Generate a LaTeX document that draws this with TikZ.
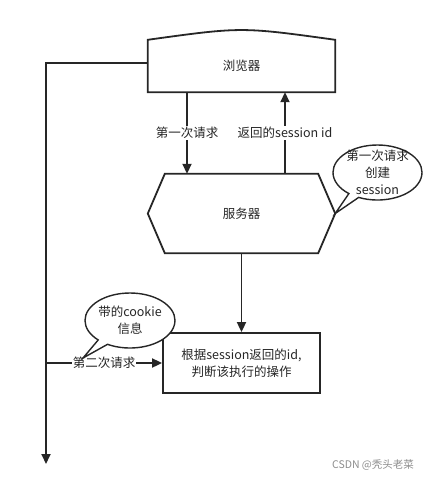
\documentclass[tikz,border=0pt]{standalone}
\usepackage{fontspec}
\setmainfont{Noto Sans CJK SC}
\usetikzlibrary{arrows.meta,shapes.callouts}

\begin{document}
\begin{tikzpicture}[x=1pt, y=-1pt,
    txt/.style={font=\fontsize{12.5}{17}\selectfont, text=black!85, align=center, inner sep=0pt},
    shp/.style={draw=black!85, line width=1.8pt},
    arr/.style={draw=black!85, line width=1.8pt, -{Triangle[length=10pt,width=9pt]}},
    lab/.style={txt, fill=white, inner sep=1pt},
    bubble/.style={ellipse callout, draw=black!85, line width=1.4pt, fill=white, txt, inner sep=-12pt}]

    \useasboundingbox (0,0) rectangle (435,480);

    % 浏览器
    \node[txt, minimum width=187, minimum height=52] (browser) at (241.5,66) {浏览器};
    \draw[shp] (browser.south west) -- (browser.north west)
        .. controls ([yshift=13pt]browser.north) .. (browser.north east)
        -- (browser.south east) -- cycle;

    % 服务器
    \node[txt, minimum width=187, minimum height=79] (server) at (241.5,213.5) {服务器};
    \draw[shp] (server.west) -- ([xshift=17pt]server.north west) -- ([xshift=-17pt]server.north east)
        -- (server.east) -- ([xshift=-17pt]server.south east) -- ([xshift=17pt]server.south west) -- cycle;

    % 操作
    \node[txt, shp, minimum width=157, minimum height=60] (action) at (241.5,363) {根据session返回的id,\\判断该执行的操作};

    % 请求与返回
    \coordinate (req) at (187,0);
    \coordinate (ret) at (285,0);
    \draw[arr] (browser.south -| req) -- (server.north -| req) node[midway, lab] (req1) {第一次请求};
    \draw[arr] (server.north -| ret) -- (browser.south -| ret) node[midway, lab] (retid) {返回的session id};
    \draw[arr] (server.south) -- (action.north);

    % 左侧回路
    \coordinate (bottom) at (46,464);
    \coordinate (tap) at (46,363);
    \draw[arr] ([yshift=3pt]browser.west) -| (bottom);
    \draw[arr] (tap) -- (action.west) node[midway, lab] (req2) {第二次请求};

    % 气泡
    \coordinate (tip2) at (83,358);
    \node[bubble, minimum width=89, minimum height=55, callout absolute pointer={(server.east)}] (note1) at (377.5,172.5) {第一次请求\\创建\\session};
    \node[bubble, minimum width=90, minimum height=55, callout absolute pointer={(tip2)}] (note2) at (130,320.5) {带的cookie\\信息};

    % 水印
    \node[font=\fontsize{10.5}{12}\selectfont, text=black!45] (mark) at (373,465) {CSDN @秃头老菜};
\end{tikzpicture}
\end{document}
